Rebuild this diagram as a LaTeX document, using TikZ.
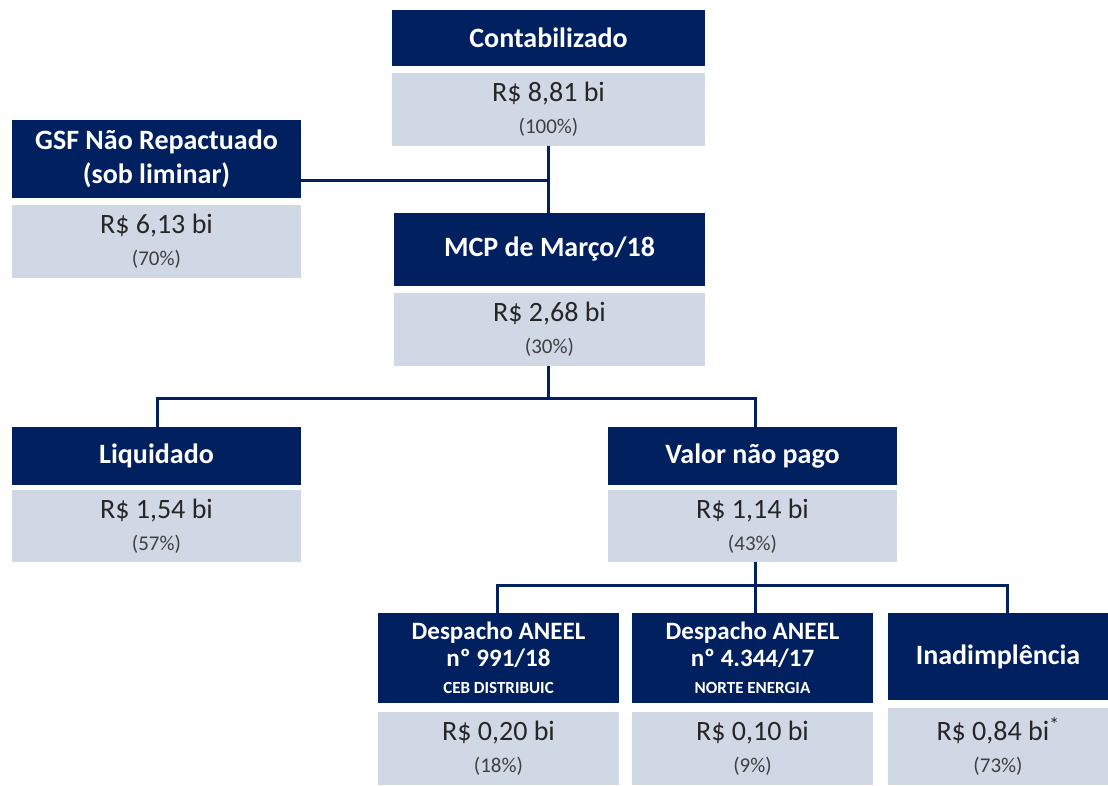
\documentclass[tikz,border=0pt]{standalone}
\usepackage{fontspec}
\setmainfont{Carlito}
\definecolor{navy}{RGB}{0,32,96}
\definecolor{pale}{RGB}{208,215,229}
\definecolor{txt}{RGB}{38,38,38}
\definecolor{pct}{RGB}{64,64,64}
\tikzset{
  hdr/.style={fill=navy, text=white, font=\bfseries\fontsize{28}{34}\selectfont, align=center, inner sep=0pt},
  hdrs/.style={hdr, font=\bfseries\fontsize{25}{27}\selectfont},
  val/.style={fill=pale, text=txt, align=center, inner sep=0pt, font=\fontsize{28}{32}\selectfont},
  conn/.style={draw=navy, line width=3pt},
}
\newcommand{\vtext}[2]{#1\\{\fontsize{21}{21}\selectfont\color{pct}(#2)}}
\newcommand{\subl}[1]{{\fontsize{17}{17}\selectfont #1}}
\begin{document}
\begin{tikzpicture}[x=1pt,y=-1pt]
\useasboundingbox[fill=white] (0,0) rectangle (1108,785);
% top
\node[hdr, minimum width=313, minimum height=56] (ch) at (548.5,38) {Contabilizado};
\node[val, minimum width=313, minimum height=73] (cv) at (548.5,109.5) {\vtext{R\$ 8,81 bi}{100\%}};
% GSF
\node[hdr, minimum width=289, minimum height=78] (gh) at (156.5,159) {GSF Não Repactuado\\(sob liminar)};
\node[val, minimum width=289, minimum height=73] (gv) at (156.5,241.5) {\vtext{R\$ 6,13 bi}{70\%}};
% MCP
\node[hdr, minimum width=311, minimum height=73] (mh) at (549.5,249.5) {MCP de Março/18};
\node[val, minimum width=311, minimum height=73] (mv) at (549.5,329.5) {\vtext{R\$ 2,68 bi}{30\%}};
% Liquidado / Valor
\node[hdr, minimum width=289, minimum height=58] (lh) at (156.5,456) {Liquidado};
\node[val, minimum width=289, minimum height=72] (lv) at (156.5,526) {\vtext{R\$ 1,54 bi}{57\%}};
\node[hdr, minimum width=289, minimum height=58] (vh) at (752.5,456) {Valor não pago};
\node[val, minimum width=289, minimum height=72] (vv) at (752.5,526) {\vtext{R\$ 1,14 bi}{43\%}};
% bottom
\node[hdrs, minimum width=241, minimum height=90] (d1h) at (498.5,658) {Despacho ANEEL\\nº 991/18\\\subl{CEB DISTRIBUIC}};
\node[val, minimum width=241, minimum height=73] (d1v) at (498.5,748.5) {\vtext{R\$ 0,20 bi}{18\%}};
\node[hdrs, minimum width=241, minimum height=90] (d2h) at (752.5,658) {Despacho ANEEL\\nº 4.344/17\\\subl{NORTE ENERGIA}};
\node[val, minimum width=241, minimum height=73] (d2v) at (752.5,748.5) {\vtext{R\$ 0,10 bi}{9\%}};
\node[hdr, minimum width=220, minimum height=87] (ih) at (998,656.5) {Inadimplência};
\node[val, minimum width=220, minimum height=77] (iv) at (998,746.5) {\vtext{R\$ 0,84 bi\textsuperscript{*}}{73\%}};
% connectors
\coordinate (j1) at (548,180);
\draw[conn] (cv.south -| j1) -- (mh.north -| j1);
\draw[conn] (gh.east |- j1) -- (j1);
\coordinate (j2) at (548,398);
\draw[conn] (mv.south -| j2) -- (j2);
\draw[conn] (lh.north -| 157,0) |- (j2) -| (vh.north -| 755,0);
\coordinate (j3) at (755,585);
\draw[conn] (vv.south -| j3) -- (j3);
\draw[conn] (d1h.north -| 497,0) |- (j3) -| (ih.north -| 1007,0);
\draw[conn] (j3) -- (d2h.north -| j3);
\end{tikzpicture}
\end{document}
